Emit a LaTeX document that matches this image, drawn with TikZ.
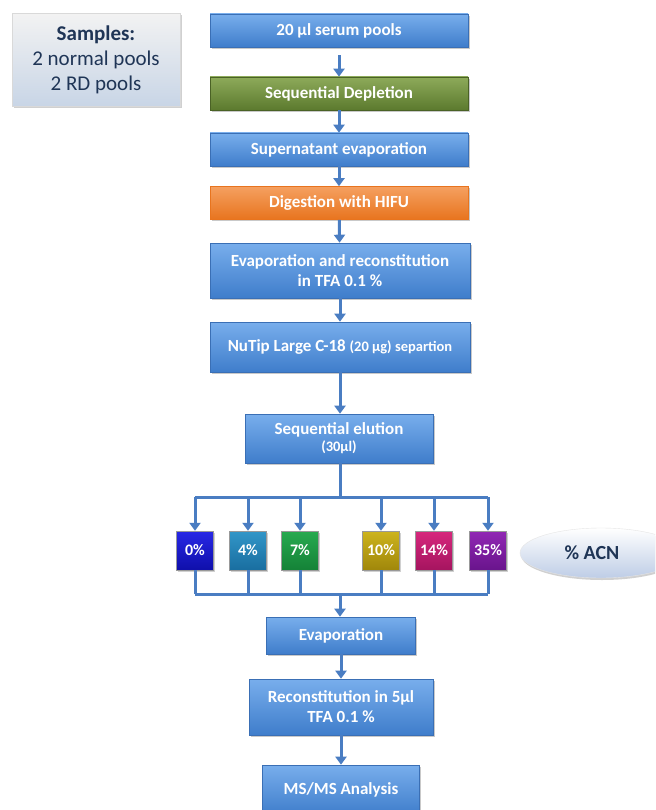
\documentclass[tikz,border=0pt]{standalone}
\usepackage{fontspec}
\setmainfont{Carlito}
\usetikzlibrary{shadows,arrows.meta,shapes.geometric}
\definecolor{bluetop}{HTML}{78AEEC}
\definecolor{bluebot}{HTML}{3F7DCB}
\definecolor{bluebd}{HTML}{3A6FB5}
\definecolor{greentop}{HTML}{8DAA5A}
\definecolor{greenbot}{HTML}{5C7A2E}
\definecolor{orgtop}{HTML}{F5A060}
\definecolor{orgbot}{HTML}{E8741E}
\definecolor{arrc}{HTML}{4A7DC2}
\definecolor{navy}{HTML}{1F3556}
\tikzset{
  x=1pt,y=-1pt,
  box/.style={rectangle, draw=bluebd, line width=0.6pt, top color=bluetop, bottom color=bluebot,
    text=white, font=\bfseries\fontsize{17}{20}\selectfont, align=center, inner sep=0pt,
    drop shadow={shadow xshift=1.5pt, shadow yshift=-2pt, opacity=0.35, fill=black!60}},
  pct/.style={rectangle, draw=black!40, line width=0.4pt, text=white, font=\bfseries\fontsize{16}{18}\selectfont,
    minimum width=37pt, minimum height=39pt, inner sep=0pt,
    drop shadow={shadow xshift=1pt, shadow yshift=-1.5pt, opacity=0.3, fill=black!60}},
  conn/.style={draw=arrc, line width=3pt},
  arr/.style={conn, -{Triangle[length=8pt,width=11pt]}},
}
\begin{document}
\begin{tikzpicture}
\clip (0,0) rectangle (655,810);
\fill[white] (0,0) rectangle (655,810);
% samples
\node[rectangle, draw=black!15, top color=black!5!white, bottom color={rgb,255:red,200;green,213;blue,230},
  minimum width=168pt, minimum height=93pt, align=center, text=navy, inner sep=0pt,
  drop shadow={shadow xshift=1.5pt, shadow yshift=-2pt, opacity=0.3, fill=black!60},
  font=\fontsize{21}{25}\selectfont] (samp) at (96,60)
  {{\bfseries Samples:}\\2 normal pools\\2 RD pools};
% main column
\node[box, minimum width=258pt, minimum height=33pt] (s1) at (339,30.5) {20 µl serum pools};
\node[box, minimum width=258pt, minimum height=33pt, draw=greenbot!80!black, top color=greentop, bottom color=greenbot] (s2) at (339,93.5) {Sequential Depletion};
\node[box, minimum width=258pt, minimum height=33pt] (s3) at (339,149.5) {Supernatant evaporation};
\node[box, minimum width=258pt, minimum height=33pt, draw=orgbot, top color=orgtop, bottom color=orgbot] (s4) at (339,203) {Digestion with HIFU};
\node[box, minimum width=260pt, minimum height=55pt] (s5) at (340,270.5) {Evaporation and reconstitution\\in TFA 0.1 \%};
\node[box, minimum width=260pt, minimum height=50pt] (s6) at (340,347) {NuTip Large C-18 {\fontsize{14.5}{16}\selectfont (20 µg) separtion}};
\node[box, minimum width=188pt, minimum height=49pt] (s7) at (339,438.5) {Sequential elution\\[-3pt]{\fontsize{14.5}{16}\selectfont (30µl)}};
% percent boxes
\node[pct, top color={rgb,255:red,40;green,40;blue,230}, bottom color={rgb,255:red,15;green,15;blue,170}] (p0) at (195,550.5) {0\%};
\node[pct, top color={rgb,255:red,50;green,150;blue,200}, bottom color={rgb,255:red,25;green,110;blue,160}] (p4) at (248,550.5) {4\%};
\node[pct, top color={rgb,255:red,40;green,170;blue,80}, bottom color={rgb,255:red,20;green,130;blue,55}] (p7) at (300,550.5) {7\%};
\node[pct, top color={rgb,255:red,205;green,180;blue,30}, bottom color={rgb,255:red,160;green,135;blue,10}] (p10) at (381,550.5) {10\%};
\node[pct, top color={rgb,255:red,215;green,40;blue,125}, bottom color={rgb,255:red,165;green,20;blue,95}] (p14) at (434,550.5) {14\%};
\node[pct, top color={rgb,255:red,145;green,40;blue,180}, bottom color={rgb,255:red,105;green,20;blue,140}] (p35) at (488,550.5) {35\%};
\node[ellipse, minimum width=162pt, minimum height=50pt, top color=white, bottom color={rgb,255:red,190;green,205;blue,230},
  draw=black!10, drop shadow={shadow xshift=1pt, shadow yshift=-2pt, opacity=0.3, fill=black!60}] (acn) at (601,553) {};
\node[text=navy, font=\bfseries\fontsize{20}{22}\selectfont] (acnt) at (592,553) {\% ACN};
% lower column
\node[box, minimum width=149pt, minimum height=37pt] (s8) at (341,635.5) {Evaporation};
\node[box, minimum width=184pt, minimum height=56pt] (s9) at (341,707) {Reconstitution in 5µl\\TFA 0.1 \%};
\node[box, minimum width=157pt, minimum height=50pt] (s10) at (341,790) {MS/MS Analysis};
% arrows
\draw[arr, shorten <=8pt] (s1) -- (s2);
\draw[arr] (s2) -- (s3);
\draw[arr] (s3) -- (s4);
\draw[arr] (s4) -- (s5);
\draw[arr] (s5) -- (s6);
\draw[arr] (s6.south) -- (s6.south |- s7.north);
\coordinate (br) at (340,497);
\coordinate (jn) at (340,594);
\draw[conn] (s7.south -| br) -- (br);
\draw[conn] (p0 |- br) -- (p35 |- br);
\foreach \p in {p0,p4,p7,p10,p14,p35}{
  \draw[arr] (\p |- br) -- (\p.north);
  \draw[conn] (\p.south) -- (\p |- jn);
}
\draw[conn] (p0 |- jn) -- (p35 |- jn);
\draw[arr] (jn) -- (jn |- s8.north);
\draw[arr] (s8) -- (s9);
\draw[arr] (s9) -- (s10);
\end{tikzpicture}
\end{document}
